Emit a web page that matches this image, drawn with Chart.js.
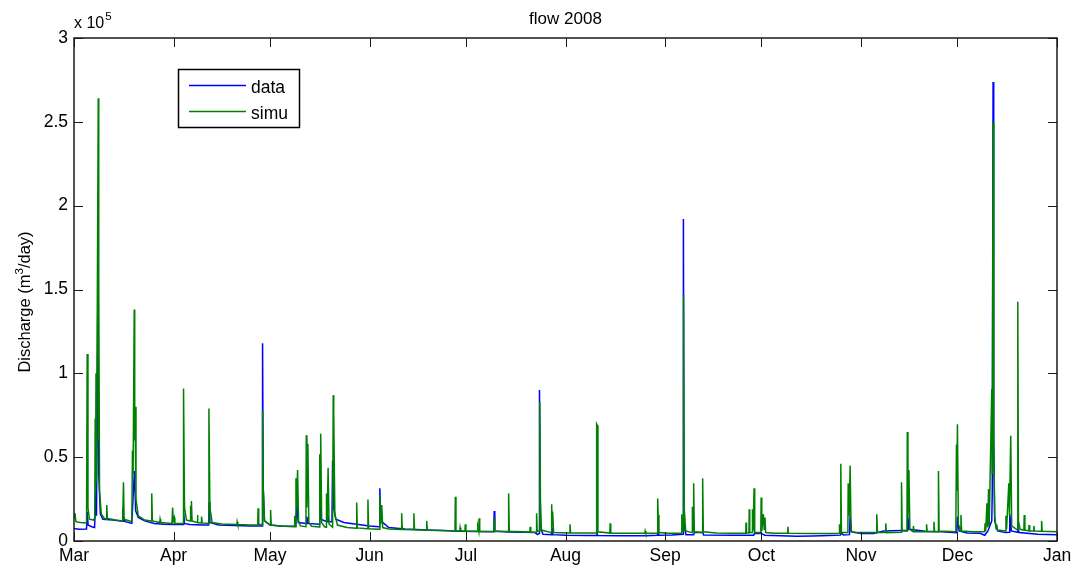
<!DOCTYPE html>
<html>
<head>
<meta charset="utf-8">
<script src="https://cdn.jsdelivr.net/npm/chart.js@4/dist/chart.umd.min.js"></script>
<style>
  html, body { margin: 0; padding: 0; background: #ffffff; }
  #wrap { width: 1079px; height: 575px; }
</style>
</head>
<body>
<div id="wrap"><canvas id="c" width="1079" height="575"></canvas></div>
<script>
// Month boundaries, in days counted from 1 March 2008
const monthStarts = [0, 31, 61, 92, 122, 153, 184, 214, 245, 275, 306];
const monthLabels = ['Mar', 'Apr', 'May', 'Jun', 'Jul', 'Aug', 'Sep', 'Oct', 'Nov', 'Dec', 'Jan'];

// Discharge ticks (m3/day) and their labels in units of 10^5
const yTickValues = [0, 50000, 100000, 150000, 200000, 250000, 300000];
const yTickLabels = ['0', '0.5', '1', '1.5', '2', '2.5', '3'];

// Observed discharge: [day since 1 Mar, m3/day]
const dataSeries = [
  [0,7500],[1.5,7000],[3.9,7200],[4.1,17500],[4.4,9500],[5.5,8500],[6.4,8000],[6.85,30000],[7.0,15000],
  [7.45,153000],[7.7,40000],[8.2,16000],[9,13000],[12,12500],[15.3,11800],[15.5,14000],[16,11500],
  [18.0,10500],[18.8,41700],[19.2,18000],[20,14000],[22,12000],[25,10500],[28,10000],[31,9800],
  [34.0,9800],[34.15,16700],[34.4,10500],[36,9800],[40,9500],[41.9,9500],[42.05,23000],[42.3,11000],
  [45,9500],[50,9200],[55,9000],[58.6,9000],[58.7,118000],[58.9,32000],[59.3,12000],[61,9500],
  [65,8800],[69.0,9000],[69.4,21500],[69.8,11000],[72.3,10500],[72.5,14500],[72.9,10500],[76.3,10000],
  [76.5,30000],[76.8,13000],[78.8,11500],[79.0,15500],[79.3,11500],[80.3,11500],[80.5,48000],
  [80.8,20000],[81.5,13000],[84,11000],[88,10000],[92,9000],[95.0,8500],[95.2,31400],[95.5,12000],
  [98,8000],[103,7200],[110,6600],[115,6200],[120,5800],[125,5600],[130.7,5500],[130.8,17900],
  [131,6000],[135.2,5300],[135.4,8000],[135.6,5300],[140,5200],[143.5,5000],[144.3,3800],[144.8,4500],
  [144.9,90000],[145.2,8000],[146,4000],[148.6,3800],[148.8,8000],[149,3800],[153,3400],[160,3300],
  [162.6,3300],[162.8,5000],[163,3300],[170,3200],[178,3200],[181.6,3400],[181.8,6000],[182,3500],
  [186,3600],[189.6,4000],[189.7,192000],[189.9,10000],[190.5,3800],[192.9,3800],[193.1,5000],
  [195.7,5000],[196,3600],[205,3400],[211.6,3500],[211.8,4500],[214,4500],[215,3500],[220,3200],
  [225,2900],[230,3000],[235,3300],[238.6,3500],[238.8,5000],[239.5,3600],[241.4,3800],[241.6,15500],
  [242,5500],[245,4500],[249,4500],[252,6000],[257.5,6200],[259.4,6200],[259.5,15500],[260,7000],
  [265,5800],[270,5500],[274.8,5000],[275.0,14500],[275.5,6000],[278,4800],[282,4600],[283.5,3400],
  [284.5,6000],[285.7,12000],[285.85,30000],[286.1,273700],[286.3,60000],[286.6,12000],[287.5,6000],
  [290,5000],[291.1,5200],[291.3,16000],[291.8,6000],[293.7,5200],[293.8,8000],[294.2,5000],
  [300,4000],[306,3800]
];

// Simulated discharge: [day since 1 Mar, m3/day]
const simuSeries = [
  [0,14000],[0.3,16700],[0.6,11500],[2,11000],[3.9,10800],[4.1,111500],[4.35,20000],[4.8,13000],
  [6.2,12500],[6.45,14000],[6.6,73000],[6.7,30000],[6.85,100000],[7.0,35000],[7.55,264000],
  [7.65,60000],[7.75,155000],[7.95,30000],[8.5,16000],[9.5,13500],[10.1,13000],[10.2,21500],
  [10.4,13500],[13,12500],[15.0,12000],[15.1,20000],[15.25,13000],[15.4,35000],[15.6,13000],
  [18.0,11500],[18.2,54000],[18.4,40000],[18.75,138000],[18.9,60000],[19.0,80000],[19.3,25000],
  [20,15000],[22,12500],[24.1,12000],[24.2,28400],[24.4,12000],[26.7,11000],[26.8,13000],[27,11000],
  [30.5,10500],[30.7,20000],[30.9,12000],[31.2,14000],[31.4,10500],[34.0,10500],[34.1,91000],
  [34.4,20000],[35,12500],[36.2,12000],[36.3,21000],[36.45,14000],[36.55,23800],[36.75,12000],
  [38.3,11000],[38.4,15500],[38.6,11000],[39.6,10800],[39.7,14500],[39.9,10800],[41.9,10500],
  [42.0,79000],[42.3,20000],[43,11000],[46,10200],[50.7,9800],[50.8,11500],[51,9800],[55,9600],
  [57.2,9500],[57.3,19500],[57.5,9800],[58.6,9800],[58.7,78000],[58.9,32000],[59.3,12000],
  [61.1,9500],[61.2,18500],[61.4,9500],[64,9000],[68.5,8500],[68.7,15000],[68.9,8500],[69.1,37400],
  [69.3,20000],[69.6,42300],[69.9,12000],[70.5,9000],[72.2,8500],[72.3,63000],[72.5,20000],
  [72.8,58000],[73.1,11000],[74,8800],[76.3,8300],[76.5,51700],[76.65,20000],[76.8,64000],
  [77.1,11000],[78,8500],[78.5,8200],[78.6,28400],[78.8,12000],[79.1,43700],[79.4,10000],
  [80.5,8300],[80.7,87000],[80.8,50000],[80.9,77000],[81.2,16000],[82,9500],[85,8000],[87.9,7600],
  [88.0,23000],[88.2,7800],[91.4,7300],[91.5,24800],[91.7,7300],[95.0,7000],[95.2,27400],
  [95.45,10000],[95.8,21500],[96.1,8000],[98,7200],[101.9,6900],[102,16500],[102.2,6900],
  [105.7,6700],[105.8,16500],[106,6700],[109.7,6400],[109.8,12000],[110,6400],[114,6200],
  [118.6,6000],[118.7,26400],[118.9,6000],[120.1,6000],[120.2,8000],[120.4,6000],[121.7,5900],
  [121.8,10000],[122,5900],[125.5,5800],[125.7,8500],[126.0,5800],[126.1,13500],[126.3,5800],
  [130.7,5700],[130.8,13500],[131,5700],[135.2,5600],[135.3,28400],[135.5,5800],[141.9,5300],
  [142,8500],[142.2,5300],[143.9,5200],[144.0,16500],[144.2,6000],[144.85,6000],[145.0,83000],
  [145.2,24500],[145.5,6500],[148.6,5000],[148.7,21900],[148.85,10000],[149.0,17500],[149.3,5000],
  [154.3,4800],[154.4,10000],[154.6,4800],[160,4700],[162.6,4700],[162.7,69800],[162.9,69000],
  [163.1,5500],[166.8,4700],[166.9,10500],[167.1,4700],[172,4600],[177.7,4600],[177.8,6000],
  [178,4600],[181.6,4600],[181.7,25400],[181.85,15500],[182.1,5000],[185,4600],[189.1,4600],
  [189.2,16000],[189.4,6000],[189.65,6000],[189.75,146700],[189.95,20000],[190.4,6000],[192.4,5000],
  [192.5,20500],[192.7,6000],[192.9,34400],[193.1,5500],[195.6,5000],[195.7,37400],[195.9,5500],
  [200,4700],[205,4600],[209.1,4600],[209.2,11000],[209.35,4700],[210.1,4700],[210.2,19000],
  [210.35,5000],[211.1,5000],[211.2,19000],[211.4,6000],[211.7,31400],[211.9,5200],[213.8,5000],
  [213.9,26000],[214.1,6000],[214.6,16000],[214.85,7000],[215.1,14000],[215.3,5000],[218,4600],
  [222.1,4600],[222.2,8500],[222.4,4600],[230,4500],[238.2,4500],[238.3,10000],[238.5,5000],
  [238.7,46000],[238.9,5000],[240.9,5000],[241.0,34400],[241.3,15000],[241.6,45000],[241.9,6000],
  [243,5000],[248,5000],[249.8,5000],[249.9,16000],[250.1,5000],[252.6,5000],[252.7,10500],
  [252.9,5000],[257.5,5200],[257.6,35000],[257.8,6000],[259.3,6000],[259.4,65000],[259.6,15000],
  [259.9,42300],[260.2,7000],[261.2,5500],[261.3,9000],[261.5,5500],[265.3,5500],[265.4,10000],
  [265.6,5500],[267.6,5500],[267.7,11500],[267.9,5500],[269.0,5500],[269.1,41700],[269.3,6000],
  [274.5,5500],[274.7,57600],[274.85,30000],[275.0,69600],[275.3,10000],[276.0,6000],[276.1,15500],
  [276.3,6000],[280,5500],[283.5,5500],[283.6,10500],[283.8,6000],[284.2,22500],[284.4,8000],
  [284.7,31000],[284.9,9000],[285.7,90600],[285.85,40000],[286.1,250000],[286.3,60000],[286.6,15000],
  [287.0,8000],[287.3,9000],[287.5,6500],[290.0,6000],[290.1,15000],[290.3,7000],[291.0,34400],
  [291.2,15000],[291.6,62800],[291.9,9000],[293.7,6500],[293.8,142700],[294.0,12000],[294.5,7000],
  [295.7,6500],[295.8,15500],[296,6500],[297.2,6000],[297.3,9500],[297.5,6000],[298.7,6000],
  [298.8,9000],[299,6000],[301.1,5800],[301.2,12000],[301.4,5800],[306,5500]
];

const FONT = '"Liberation Sans", Arial, Helvetica, sans-serif';
const BLUE = '#0000ff';
const GREEN = '#008000';
const seriesColors = { data: BLUE, simu: GREEN };

const toPoints = s => s.map(p => ({ x: p[0], y: p[1] }));

// Axes box with inward ticks, title, exponent note, y label and legend box
const decorations = {
  id: 'decorations',
  afterDraw(chart) {
    const ctx = chart.ctx;
    const a = chart.chartArea;
    const xs = chart.scales.x, ys = chart.scales.y;
    const tl = 9;
    ctx.save();
    ctx.strokeStyle = '#1a1a1a';
    ctx.lineWidth = 1;
    ctx.beginPath();
    monthStarts.forEach(v => {
      const px = Math.round(xs.getPixelForValue(v)) + 0.5;
      ctx.moveTo(px, a.bottom); ctx.lineTo(px, a.bottom - tl);
      ctx.moveTo(px, a.top); ctx.lineTo(px, a.top + tl);
    });
    yTickValues.forEach(v => {
      const py = Math.round(ys.getPixelForValue(v)) + 0.5;
      ctx.moveTo(a.left, py); ctx.lineTo(a.left + tl, py);
      ctx.moveTo(a.right, py); ctx.lineTo(a.right - tl, py);
    });
    ctx.stroke();
    ctx.lineWidth = 1.5;
    ctx.strokeRect(a.left, a.top, a.right - a.left, a.bottom - a.top);

    ctx.fillStyle = '#000';
    // title
    ctx.font = '17px ' + FONT;
    ctx.textAlign = 'center';
    ctx.textBaseline = 'alphabetic';
    ctx.fillText('flow 2008', (a.left + a.right) / 2, 24);

    // exponent note above the y axis
    ctx.textAlign = 'left';
    ctx.font = '16px ' + FONT;
    ctx.fillText('x 10', a.left, 28);
    const w10 = ctx.measureText('x 10').width;
    ctx.font = '11.5px ' + FONT;
    ctx.fillText('5', a.left + w10 + 1, 20);

    // y axis label with superscript
    ctx.save();
    ctx.translate(30, 302);
    ctx.rotate(-Math.PI / 2);
    const big = '16.5px ' + FONT, small = '11.5px ' + FONT;
    ctx.font = big; const w1 = ctx.measureText('Discharge (m').width;
    ctx.font = small; const w2 = ctx.measureText('3').width;
    ctx.font = big; const w3 = ctx.measureText('/day)').width;
    const x0 = -(w1 + w2 + w3) / 2;
    ctx.textAlign = 'left';
    ctx.font = big; ctx.fillText('Discharge (m', x0, 0);
    ctx.font = small; ctx.fillText('3', x0 + w1, -7);
    ctx.font = big; ctx.fillText('/day)', x0 + w1 + w2, 0);
    ctx.restore();

    // legend
    const lx = 178.5, ly = 69.5, lw = 121, lh = 58;
    ctx.fillStyle = '#ffffff';
    ctx.fillRect(lx, ly, lw, lh);
    ctx.strokeStyle = '#000';
    ctx.lineWidth = 1.5;
    ctx.strokeRect(lx, ly, lw, lh);
    const rows = [[chart.data.datasets[0].label, 85.5, 92.5], [chart.data.datasets[1].label, 111.5, 118.5]];
    ctx.font = '17.5px ' + FONT;
    rows.forEach(([label, yl, yt]) => {
      ctx.strokeStyle = seriesColors[label];
      ctx.lineWidth = 1.3;
      ctx.beginPath(); ctx.moveTo(189, yl); ctx.lineTo(246, yl); ctx.stroke();
      ctx.fillStyle = '#000';
      ctx.fillText(label, 251, yt);
    });
    ctx.restore();
  }
};

new Chart(document.getElementById('c'), {
  type: 'line',
  data: {
    datasets: [
      { label: 'data', data: toPoints(dataSeries), borderColor: BLUE, borderWidth: 1.5,
        pointRadius: 0, tension: 0, fill: false, order: 1 },
      { label: 'simu', data: toPoints(simuSeries), borderColor: GREEN, borderWidth: 1.5,
        pointRadius: 0, tension: 0, fill: false, order: 0 }
    ]
  },
  options: {
    responsive: false,
    devicePixelRatio: 1,
    animation: false,
    events: [],
    layout: { padding: { left: 0, right: 22, top: 38, bottom: 0 } },
    plugins: { legend: { display: false }, tooltip: { enabled: false }, title: { display: false } },
    scales: {
      x: {
        type: 'linear', min: 0, max: 306,
        afterBuildTicks: s => { s.ticks = monthStarts.map(v => ({ value: v })); },
        afterFit: s => { s.height = 34; },
        grid: { display: false, drawTicks: false },
        border: { display: false },
        ticks: {
          autoSkip: false, maxRotation: 0, padding: 5, color: '#000',
          font: { family: FONT, size: 17.5 },
          callback: v => monthLabels[monthStarts.indexOf(v)]
        }
      },
      y: {
        min: 0, max: 300000,
        afterBuildTicks: s => { s.ticks = yTickValues.map(v => ({ value: v })); },
        afterFit: s => { s.width = 74; },
        grid: { display: false, drawTicks: false },
        border: { display: false },
        ticks: {
          padding: 6, color: '#000',
          font: { family: FONT, size: 17.5 },
          callback: v => yTickLabels[yTickValues.indexOf(v)]
        }
      }
    }
  },
  plugins: [decorations]
});
</script>
</body>
</html>
